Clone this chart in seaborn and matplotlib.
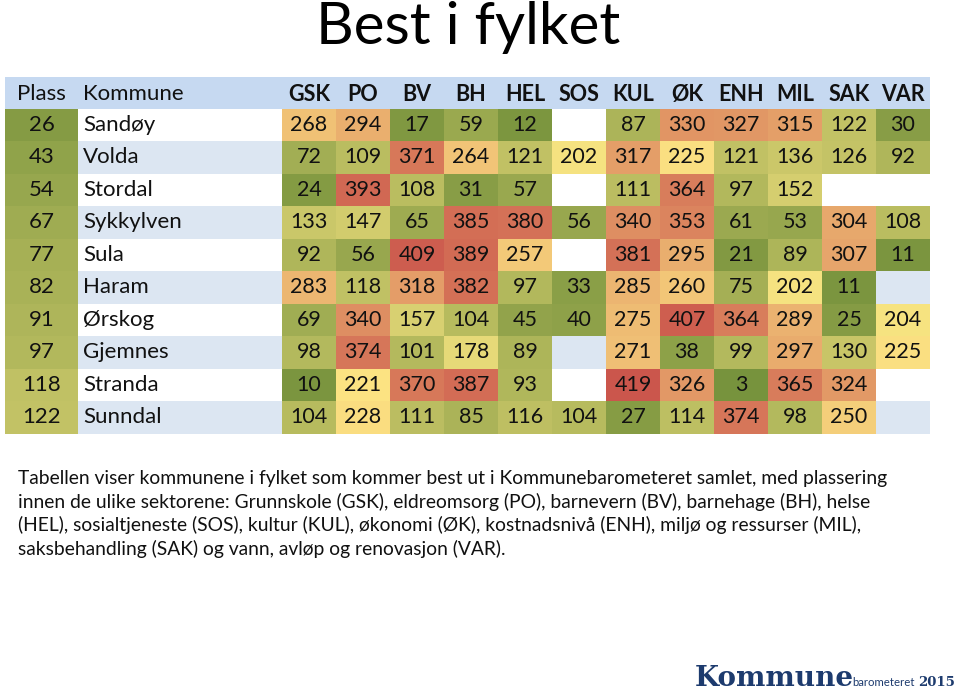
import numpy as np
import pandas as pd
import matplotlib
matplotlib.use('Agg')
from matplotlib import pyplot as plt
from matplotlib.colors import LinearSegmentedColormap, ListedColormap
import seaborn as sns

sns.set_theme(style='white')
plt.rcParams['font.family'] = ['Lato', 'DejaVu Sans']

# data
plass = [26, 43, 54, 67, 77, 82, 91, 97, 118, 122]
kommuner = ['Sandøy', 'Volda', 'Stordal', 'Sykkylven', 'Sula', 'Haram', 'Ørskog',
            'Gjemnes', 'Stranda', 'Sunndal']
sektorer = ['GSK', 'PO', 'BV', 'BH', 'HEL', 'SOS', 'KUL', 'ØK', 'ENH', 'MIL', 'SAK', 'VAR']
nan = np.nan
GSK = [268, 72, 24, 133, 92, 283, 69, 98, 10, 104]
PO = [294, 109, 393, 147, 56, 118, 340, 374, 221, 228]
BV = [17, 371, 108, 65, 409, 318, 157, 101, 370, 111]
BH = [59, 264, 31, 385, 389, 382, 104, 178, 387, 85]
HEL = [12, 121, 57, 380, 257, 97, 45, 89, 93, 116]
SOS = [nan, 202, nan, 56, nan, 33, 40, nan, nan, 104]
KUL = [87, 317, 111, 340, 381, 285, 275, 271, 419, 27]
OK = [330, 225, 364, 353, 295, 260, 407, 38, 326, 114]
ENH = [327, 121, 97, 61, 21, 75, 364, 99, 3, 374]
MIL = [315, 136, 152, 53, 89, 202, 289, 297, 365, 98]
SAK = [122, 126, nan, 304, 307, 11, 25, 130, 324, 250]
VAR = [30, 92, nan, 108, 11, nan, 204, 225, nan, nan]

df = pd.DataFrame({'GSK': GSK, 'PO': PO, 'BV': BV, 'BH': BH, 'HEL': HEL, 'SOS': SOS,
                   'KUL': KUL, 'ØK': OK, 'ENH': ENH, 'MIL': MIL, 'SAK': SAK, 'VAR': VAR},
                  index=kommuner)
df_plass = pd.DataFrame({'Plass': plass}, index=kommuner)

cmap = LinearSegmentedColormap.from_list('gyr', [(0, '#76923c'), (0.5, '#fde784'), (1, '#c9504a')])
stripe_cmap = ListedColormap(['#ffffff', '#dce6f2'])
header_col = '#c6d9f1'
txt_col = '#111111'

W, H = 960, 691
fig = plt.figure(figsize=(9.6, 6.91), dpi=100)


def px_axes(x0, y0, x1, y1):
    return fig.add_axes([x0 / W, 1 - y1 / H, (x1 - x0) / W, (y1 - y0) / H])


top, bottom = 108.5, 433.5
x_plass, x_komm, x_val, x_end = 5, 78, 282, 930
parity = np.array([[i % 2] for i in range(len(kommuner))])

# header
axh = px_axes(x_plass, 77, x_end, top)
axh.set_facecolor(header_col)
axh.set_xlim(x_plass, x_end)
axh.set_ylim(0, 1)
axh.set_xticks([])
axh.set_yticks([])
for s in axh.spines.values():
    s.set_visible(False)
axh.text((x_plass + x_komm) / 2, 0.45, 'Plass', ha='center', va='center', fontsize=16, color=txt_col)
axh.text(x_komm + 5, 0.45, 'Kommune', ha='left', va='center', fontsize=16, color=txt_col)
cw = (x_end - x_val) / len(sektorer)
for j, s in enumerate(sektorer):
    axh.text(x_val + cw * (j + 0.5), 0.45, s, ha='center', va='center', fontsize=15.5,
             fontweight='bold', color=txt_col)

# plass column
axp = px_axes(x_plass, top, x_komm, bottom)
sns.heatmap(df_plass, cmap=cmap, vmin=1, vmax=428, annot=True, fmt='d', cbar=False,
            xticklabels=False, yticklabels=False, ax=axp,
            annot_kws={'fontsize': 16, 'color': txt_col})

# kommune column
axk = px_axes(x_komm, top, x_val, bottom)
sns.heatmap(parity, cmap=stripe_cmap, vmin=0, vmax=1, cbar=False,
            xticklabels=False, yticklabels=False, ax=axk)
for i, k in enumerate(kommuner):
    axk.text(0.025, i + 0.5, k, ha='left', va='center', fontsize=16, color=txt_col)

# sector values
axv = px_axes(x_val, top, x_end, bottom)
stripes = np.repeat(parity, len(sektorer), axis=1)
sns.heatmap(stripes, cmap=stripe_cmap, vmin=0, vmax=1, cbar=False,
            xticklabels=False, yticklabels=False, ax=axv)
sns.heatmap(df, mask=df.isna(), cmap=cmap, vmin=1, vmax=428, annot=True, fmt='.0f',
            cbar=False, xticklabels=False, yticklabels=False, ax=axv,
            annot_kws={'fontsize': 15.5, 'color': txt_col})

# title
fig.text(468 / W, 1 - 28 / H, 'Best i fylket', ha='center', va='center', fontsize=42, color='#000000')

# footnote
note = ('Tabellen viser kommunene i fylket som kommer best ut i Kommunebarometeret samlet, med plassering\n'
        'innen de ulike sektorene: Grunnskole (GSK), eldreomsorg (PO), barnevern (BV), barnehage (BH), helse\n'
        '(HEL), sosialtjeneste (SOS), kultur (KUL), økonomi (ØK), kostnadsnivå (ENH), miljø og ressurser (MIL),\n'
        'saksbehandling (SAK) og vann, avløp og renovasjon (VAR).')
fig.text(18 / W, 1 - 470 / H, note, ha='left', va='top', fontsize=13.9, linespacing=1.37, color=txt_col)

# logo
navy = '#1d3b6e'
fig.text(695 / W, 1 - 686 / H, 'Kommune', ha='left', va='baseline', fontsize=20,
         fontweight='heavy', family='DejaVu Serif', color=navy)
fig.text(852 / W, 1 - 686 / H, 'barometeret', ha='left', va='baseline', fontsize=8.2,
         color=navy)
fig.text(918 / W, 1 - 686 / H, '2015', ha='left', va='baseline', fontsize=9.5,
         fontweight='bold', family='DejaVu Serif', color=navy)

fig.savefig('out.png', dpi=100)
